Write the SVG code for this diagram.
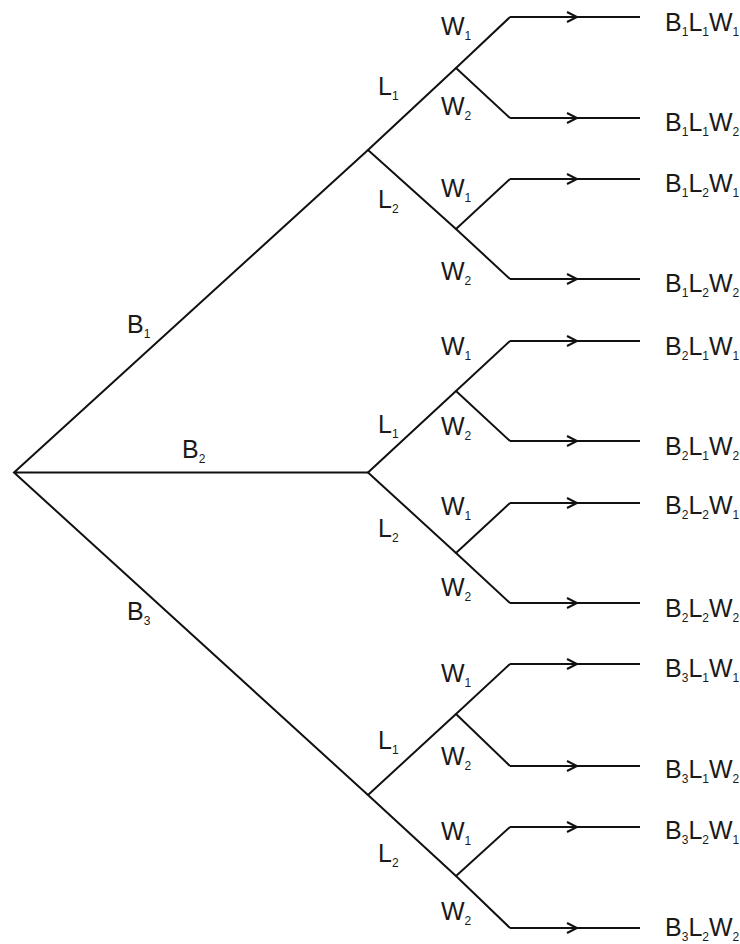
<svg xmlns="http://www.w3.org/2000/svg" width="740" height="944" viewBox="0 0 740 944">
<style>
text{font-family:"Liberation Sans","DejaVu Sans",sans-serif;font-size:25px;fill:#1a1a1a}
.s{font-size:12px}
.e{fill:none;stroke:#111;stroke-width:2;stroke-linejoin:miter}
.h{fill:none;stroke:#111;stroke-width:2;marker-mid:url(#chev)}
</style>
<defs>
<marker id="chev" markerUnits="userSpaceOnUse" markerWidth="14" markerHeight="14" viewBox="-12 -7 14 14" refX="0" refY="0" orient="auto" overflow="visible">
<path d="M-10,-5 L0,0 L-10,5" fill="none" stroke="#111" stroke-width="2"/>
</marker>
</defs>
<rect width="740" height="944" fill="#fff"/>
<g id="connectors">
<path class="e" d="M368,150 L14,472.5 L368,795 M14,472.5 L368,472.5"/>
<path class="e" d="M456,68 L368,150 L456,229"/>
<path class="e" d="M456,391 L368,472.5 L456,553"/>
<path class="e" d="M456,714 L368,795 L456,876"/>
<path class="e" d="M510,17 L456,68 L510,118"/>
<path class="e" d="M510,179 L456,229 L510,279"/>
<path class="e" d="M510,341 L456,391 L510,441"/>
<path class="e" d="M510,503 L456,553 L510,603"/>
<path class="e" d="M510,664 L456,714 L510,766"/>
<path class="e" d="M510,827 L456,876 L510,928"/>
<path class="h" d="M510,17 L577,17 L640,17"/>
<path class="h" d="M510,118 L577,118 L640,118"/>
<path class="h" d="M510,179 L577,179 L640,179"/>
<path class="h" d="M510,279 L577,279 L640,279"/>
<path class="h" d="M510,341 L577,341 L640,341"/>
<path class="h" d="M510,441 L577,441 L640,441"/>
<path class="h" d="M510,503 L577,503 L640,503"/>
<path class="h" d="M510,603 L577,603 L640,603"/>
<path class="h" d="M510,664 L577,664 L640,664"/>
<path class="h" d="M510,766 L577,766 L640,766"/>
<path class="h" d="M510,827 L577,827 L640,827"/>
<path class="h" d="M510,928 L577,928 L640,928"/>
</g>
<g id="branch-labels">
<g id="lbl-B1"><text x="127" y="333">B<tspan class="s" dy="5">1</tspan></text></g>
<g id="lbl-B2"><text x="182" y="458">B<tspan class="s" dy="5">2</tspan></text></g>
<g id="lbl-B3"><text x="127" y="620">B<tspan class="s" dy="5">3</tspan></text></g>
<g id="lbl-B1L1"><text x="378" y="95">L<tspan class="s" dy="5">1</tspan></text></g>
<g id="lbl-B1L2"><text x="378" y="208">L<tspan class="s" dy="5">2</tspan></text></g>
<g id="lbl-B2L1"><text x="378" y="433">L<tspan class="s" dy="5">1</tspan></text></g>
<g id="lbl-B2L2"><text x="378" y="537">L<tspan class="s" dy="5">2</tspan></text></g>
<g id="lbl-B3L1"><text x="378" y="749">L<tspan class="s" dy="5">1</tspan></text></g>
<g id="lbl-B3L2"><text x="378" y="862">L<tspan class="s" dy="5">2</tspan></text></g>
<g id="lbl-W-1"><text x="441" y="35">W<tspan class="s" dy="5">1</tspan></text></g>
<g id="lbl-W-2"><text x="441" y="115">W<tspan class="s" dy="5">2</tspan></text></g>
<g id="lbl-W-3"><text x="441" y="197">W<tspan class="s" dy="5">1</tspan></text></g>
<g id="lbl-W-4"><text x="441" y="280">W<tspan class="s" dy="5">2</tspan></text></g>
<g id="lbl-W-5"><text x="441" y="355">W<tspan class="s" dy="5">1</tspan></text></g>
<g id="lbl-W-6"><text x="441" y="435">W<tspan class="s" dy="5">2</tspan></text></g>
<g id="lbl-W-7"><text x="441" y="515">W<tspan class="s" dy="5">1</tspan></text></g>
<g id="lbl-W-8"><text x="441" y="596">W<tspan class="s" dy="5">2</tspan></text></g>
<g id="lbl-W-9"><text x="441" y="682">W<tspan class="s" dy="5">1</tspan></text></g>
<g id="lbl-W-10"><text x="441" y="765">W<tspan class="s" dy="5">2</tspan></text></g>
<g id="lbl-W-11"><text x="441" y="840">W<tspan class="s" dy="5">1</tspan></text></g>
<g id="lbl-W-12"><text x="441" y="920">W<tspan class="s" dy="5">2</tspan></text></g>
</g>
<g id="outcomes">
<g id="B1L1W1"><text x="665" y="31">B<tspan class="s" dy="5">1</tspan><tspan dy="-5">L</tspan><tspan class="s" dy="5">1</tspan><tspan dy="-5">W</tspan><tspan class="s" dy="5">1</tspan></text></g>
<g id="B1L1W2"><text x="665" y="131">B<tspan class="s" dy="5">1</tspan><tspan dy="-5">L</tspan><tspan class="s" dy="5">1</tspan><tspan dy="-5">W</tspan><tspan class="s" dy="5">2</tspan></text></g>
<g id="B1L2W1"><text x="665" y="192">B<tspan class="s" dy="5">1</tspan><tspan dy="-5">L</tspan><tspan class="s" dy="5">2</tspan><tspan dy="-5">W</tspan><tspan class="s" dy="5">1</tspan></text></g>
<g id="B1L2W2"><text x="665" y="292">B<tspan class="s" dy="5">1</tspan><tspan dy="-5">L</tspan><tspan class="s" dy="5">2</tspan><tspan dy="-5">W</tspan><tspan class="s" dy="5">2</tspan></text></g>
<g id="B2L1W1"><text x="665" y="355">B<tspan class="s" dy="5">2</tspan><tspan dy="-5">L</tspan><tspan class="s" dy="5">1</tspan><tspan dy="-5">W</tspan><tspan class="s" dy="5">1</tspan></text></g>
<g id="B2L1W2"><text x="665" y="455">B<tspan class="s" dy="5">2</tspan><tspan dy="-5">L</tspan><tspan class="s" dy="5">1</tspan><tspan dy="-5">W</tspan><tspan class="s" dy="5">2</tspan></text></g>
<g id="B2L2W1"><text x="665" y="514">B<tspan class="s" dy="5">2</tspan><tspan dy="-5">L</tspan><tspan class="s" dy="5">2</tspan><tspan dy="-5">W</tspan><tspan class="s" dy="5">1</tspan></text></g>
<g id="B2L2W2"><text x="665" y="617">B<tspan class="s" dy="5">2</tspan><tspan dy="-5">L</tspan><tspan class="s" dy="5">2</tspan><tspan dy="-5">W</tspan><tspan class="s" dy="5">2</tspan></text></g>
<g id="B3L1W1"><text x="665" y="677">B<tspan class="s" dy="5">3</tspan><tspan dy="-5">L</tspan><tspan class="s" dy="5">1</tspan><tspan dy="-5">W</tspan><tspan class="s" dy="5">1</tspan></text></g>
<g id="B3L1W2"><text x="665" y="778">B<tspan class="s" dy="5">3</tspan><tspan dy="-5">L</tspan><tspan class="s" dy="5">1</tspan><tspan dy="-5">W</tspan><tspan class="s" dy="5">2</tspan></text></g>
<g id="B3L2W1"><text x="665" y="839">B<tspan class="s" dy="5">3</tspan><tspan dy="-5">L</tspan><tspan class="s" dy="5">2</tspan><tspan dy="-5">W</tspan><tspan class="s" dy="5">1</tspan></text></g>
<g id="B3L2W2"><text x="665" y="936">B<tspan class="s" dy="5">3</tspan><tspan dy="-5">L</tspan><tspan class="s" dy="5">2</tspan><tspan dy="-5">W</tspan><tspan class="s" dy="5">2</tspan></text></g>
</g>
</svg>
